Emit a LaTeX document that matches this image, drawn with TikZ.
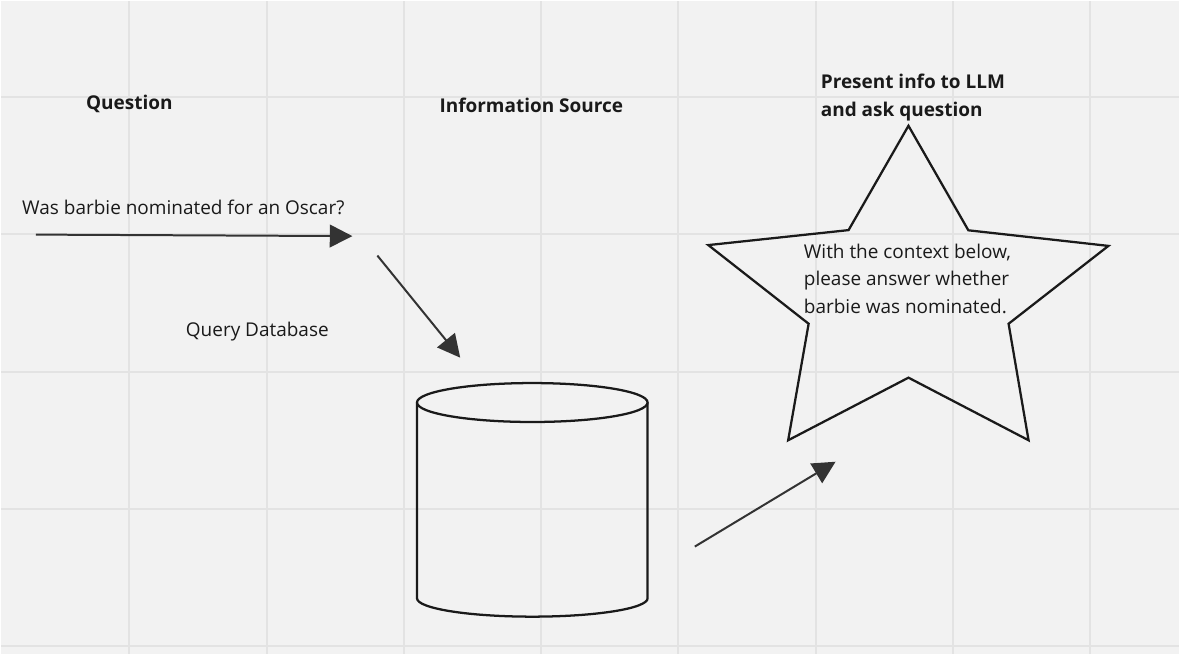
\documentclass[tikz,border=0pt]{standalone}
\usepackage{fontspec}
\setmainfont{Open Sans}
\usetikzlibrary{arrows.meta}
\definecolor{canvas}{HTML}{F2F2F2}
\definecolor{gridline}{HTML}{E3E3E3}
\definecolor{ink}{HTML}{1A1A1A}
\definecolor{arrowink}{HTML}{333333}
\newcommand{\boardfont}{\fontsize{14.25pt}{20.6pt}\selectfont}
\tikzstyle{heading} = [anchor=west, inner sep=0pt, font=\boardfont\bfseries, text=ink]
\tikzstyle{plain} = [anchor=west, inner sep=0pt, font=\boardfont, text=ink]
\tikzstyle{outline} = [draw=ink, line width=1.7pt]
\tikzstyle{line} = [draw=arrowink, line width=1.5pt, -{Triangle[length=17pt,width=17pt]}]

\begin{document}
\begin{tikzpicture}[x=0.75pt, y=-0.75pt]
    % Canvas and grid
    \fill[canvas] (0,0) rectangle (1180,654);
    \foreach \gx in {128.5,266,403.5,541,678.5,816,953.5,1091}
        \draw[gridline, line width=1.5pt] (\gx,0) -- (\gx,654);
    \foreach \gy in {96.3,233.8,371.3,508.8,646.3}
        \draw[gridline, line width=1.5pt] (0,\gy) -- (1180,\gy);
    \useasboundingbox (0,0) rectangle (1180,654);
    % Place nodes
    \node [heading] (question) at (85,103) {Question};
    \node [heading] (source) at (439,105) {Information Source};
    \node [heading, align=left] (present) at (821,96.5) {Present info to LLM\\and ask question};
    \node [plain] (asked) at (21,207) {Was barbie nominated for an Oscar?};
    \node [plain] (query) at (185,331) {Query Database};
    % Database cylinder
    \coordinate (db) at (532.2,402.2);
    \draw [outline] (db) ellipse [x radius=115.5, y radius=19.5];
    \draw [outline] (416.7,402.2) -- (416.7,598.3)
        arc [start angle=180, end angle=0, x radius=115.5, y radius=18.4] -- (647.7,402.2);
    % LLM star
    \draw [outline] (909,125) -- (849,229.5) -- (708.5,244.5) -- (809,323.3)
        -- (788.5,440) -- (909,377.3) -- (1029.3,440) -- (1009.3,323.3) -- (1109.3,245.3)
        -- (969,229.7) -- cycle;
    \node [plain, align=left] (prompt) at (804,278) {With the context below,\\please answer whether\\barbie was nominated.};
    % Arrow ends
    \coordinate (askStart) at (35,234);
    \coordinate (askEnd) at (352,235.5);
    \coordinate (queryStart) at (377,255);
    \coordinate (queryEnd) at (460,357.3);
    \coordinate (answerStart) at (695,546.5);
    \coordinate (answerEnd) at (836,461.5);
    % Draw edges
    \path [line] (askStart) -- (askEnd);
    \path [line] (queryStart) -- (queryEnd);
    \path [line] (answerStart) -- (answerEnd);
\end{tikzpicture}
\end{document}
